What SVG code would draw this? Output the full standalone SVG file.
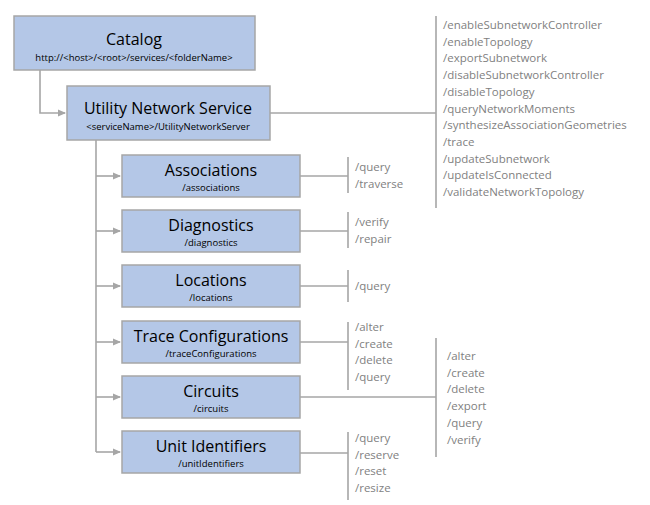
<svg xmlns="http://www.w3.org/2000/svg" width="650" height="505" viewBox="0 0 650 505">
<defs>
<style>
.box{fill:#b4c7e7;stroke:#a6a6a6;stroke-width:1.5}
.t{font-family:"Open Sans","Liberation Sans",sans-serif;fill:#000;text-anchor:middle}
.tt{font-size:16px}
.st{font-size:9.5px}
.op{font-family:"Open Sans","Liberation Sans",sans-serif;font-size:11.5px;fill:#7f7f7f}
.ln{stroke:#a6a6a6;stroke-width:1.6;fill:none}
</style>
<marker id="ar" markerWidth="8" markerHeight="8" refX="7" refY="4" orient="auto" markerUnits="userSpaceOnUse"><path d="M0,0.5L8,4L0,7.5z" fill="#a6a6a6"/></marker>
</defs>
<g id="connectors">
<path class="ln" d="M40,70V113H65" marker-end="url(#ar)"/>
<path class="ln" d="M96,140V452"/>
<path class="ln" d="M96,176H120" marker-end="url(#ar)"/>
<path class="ln" d="M96,231H120" marker-end="url(#ar)"/>
<path class="ln" d="M96,286H120" marker-end="url(#ar)"/>
<path class="ln" d="M96,342H120" marker-end="url(#ar)"/>
<path class="ln" d="M96,397H120" marker-end="url(#ar)"/>
<path class="ln" d="M96,452H120" marker-end="url(#ar)"/>
<path class="ln" d="M270,113H436M436,16V208"/>
<path class="ln" d="M300,176H348M348,157V193"/>
<path class="ln" d="M300,231H348M348,212V248"/>
<path class="ln" d="M300,286H348M348,270V302"/>
<path class="ln" d="M300,342H348M348,322V390"/>
<path class="ln" d="M300,397H436M436,338V457"/>
<path class="ln" d="M300,453H348M348,432V500"/>
</g>
<g id="catalog"><rect class="box" x="14" y="16" width="241" height="54"/><text class="t tt" x="134" y="45">Catalog</text><text class="t st" x="134" y="61">http://&lt;host&gt;/&lt;root&gt;/services/&lt;folderName&gt;</text></g>
<g id="uns"><rect class="box" x="67" y="86" width="203" height="54"/><text class="t tt" x="168" y="114">Utility Network Service</text><text class="t st" x="168" y="130">&lt;serviceName&gt;/UtilityNetworkServer</text></g>
<g id="associations"><rect class="box" x="122" y="155" width="178" height="42"/><text class="t tt" x="211" y="176">Associations</text><text class="t st" x="211" y="191">/associations</text></g>
<g id="diagnostics"><rect class="box" x="122" y="210" width="178" height="42"/><text class="t tt" x="211" y="231">Diagnostics</text><text class="t st" x="211" y="246">/diagnostics</text></g>
<g id="locations"><rect class="box" x="122" y="265" width="178" height="42"/><text class="t tt" x="211" y="286">Locations</text><text class="t st" x="211" y="301">/locations</text></g>
<g id="trace"><rect class="box" x="122" y="321" width="178" height="42"/><text class="t tt" x="211" y="342">Trace Configurations</text><text class="t st" x="211" y="357">/traceConfigurations</text></g>
<g id="circuits"><rect class="box" x="122" y="376" width="178" height="42"/><text class="t tt" x="211" y="397">Circuits</text><text class="t st" x="211" y="412">/circuits</text></g>
<g id="unitids"><rect class="box" x="122" y="431" width="178" height="42"/><text class="t tt" x="211" y="452">Unit Identifiers</text><text class="t st" x="211" y="467">/unitIdentifiers</text></g>
<g id="ops">
<text class="op" x="443" y="29"><tspan x="443">/enableSubnetworkController</tspan><tspan x="443" dy="16.7">/enableTopology</tspan><tspan x="443" dy="16.7">/exportSubnetwork</tspan><tspan x="443" dy="16.7">/disableSubnetworkController</tspan><tspan x="443" dy="16.7">/disableTopology</tspan><tspan x="443" dy="16.7">/queryNetworkMoments</tspan><tspan x="443" dy="16.7">/synthesizeAssociationGeometries</tspan><tspan x="443" dy="16.7">/trace</tspan><tspan x="443" dy="16.7">/updateSubnetwork</tspan><tspan x="443" dy="16.7">/updateIsConnected</tspan><tspan x="443" dy="16.7">/validateNetworkTopology</tspan></text>
<text class="op" x="355" y="171"><tspan x="355">/query</tspan><tspan x="355" dy="16.7">/traverse</tspan></text>
<text class="op" x="355" y="226"><tspan x="355">/verify</tspan><tspan x="355" dy="16.7">/repair</tspan></text>
<text class="op" x="355" y="290">/query</text>
<text class="op" x="355" y="331"><tspan x="355">/alter</tspan><tspan x="355" dy="16.7">/create</tspan><tspan x="355" dy="16.7">/delete</tspan><tspan x="355" dy="16.7">/query</tspan></text>
<text class="op" x="447" y="360"><tspan x="447">/alter</tspan><tspan x="447" dy="16.7">/create</tspan><tspan x="447" dy="16.7">/delete</tspan><tspan x="447" dy="16.7">/export</tspan><tspan x="447" dy="16.7">/query</tspan><tspan x="447" dy="16.7">/verify</tspan></text>
<text class="op" x="355" y="442"><tspan x="355">/query</tspan><tspan x="355" dy="16.7">/reserve</tspan><tspan x="355" dy="16.7">/reset</tspan><tspan x="355" dy="16.7">/resize</tspan></text>
</g>
</svg>
